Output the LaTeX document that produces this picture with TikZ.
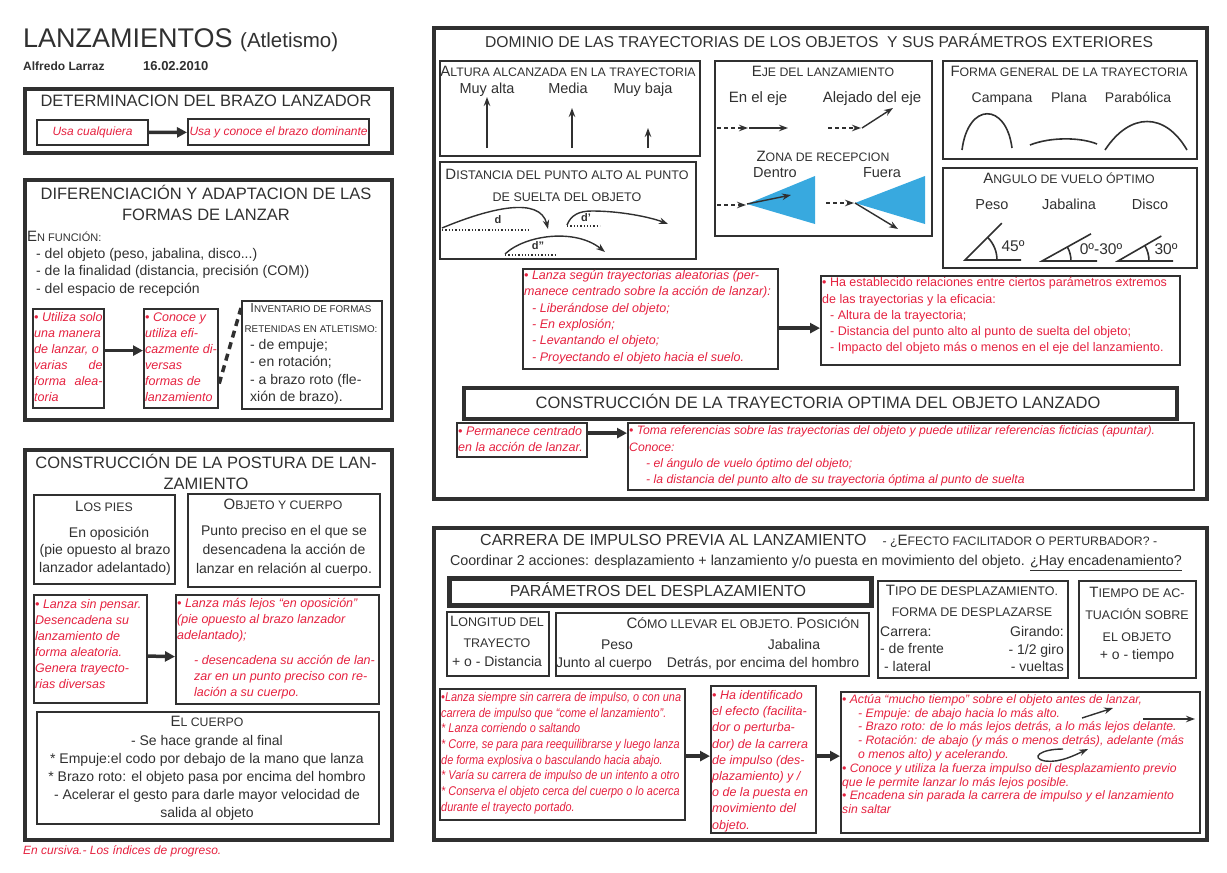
\documentclass[tikz,border=0pt]{standalone}
\usepackage{fontspec}
\setmainfont{Liberation Sans}
\newfontfamily\narrowfont[FakeStretch=0.86]{Liberation Sans}
\usetikzlibrary{arrows.meta, positioning, calc}
\definecolor{ink}{HTML}{303030}
\definecolor{redink}{HTML}{E5213F}
\definecolor{zone}{HTML}{38A9DF}
\newcommand\fs[2]{\fontsize{#1}{#2}\selectfont}
\newcommand\bigc[2][15]{{\fontsize{#1}{#1}\selectfont #2}}
\tikzset{
  frame/.style    = {draw=ink, line width=4pt, anchor=north west, inner sep=0pt},
  box/.style      = {draw=ink, line width=2.2pt, anchor=north west, inner sep=0pt},
  head/.style     = {text=ink, font=\fs{16.5}{20.5}, align=center, inner sep=0pt},
  smallcap/.style = {text=ink, font=\fs{12.3}{21}, align=center, inner sep=0pt},
  body/.style     = {text=ink, font=\fs{14}{17.5}, align=center, inner sep=0pt},
  tag/.style      = {body, text height=10.5pt, text depth=3pt},
  note/.style     = {text=redink, font=\itshape\fs{12.5}{16}, align=left, anchor=west, inner sep=0pt},
  flow/.style     = {-{Triangle[length=10pt, width=10pt]}, draw=ink, line width=3.5pt},
  thin/.style     = {-{Stealth[length=9pt, width=6.5pt]}, draw=ink, line width=1.4pt},
  thindash/.style = {thin, dash pattern=on 4pt off 3pt},
  curve/.style    = {draw=ink, line width=1.6pt},
}
\begin{document}
\begin{tikzpicture}[x=1pt, y=-1pt]
  \useasboundingbox (0,0) rectangle (1227,873);

  % cabecera
  \node[anchor=base west, text=ink, font=\fs{27}{30}, inner sep=0pt] (titulo) at (23,47) {LANZAMIENTOS {\fs{20.5}{24}(Atletismo)}};
  \node[anchor=base west, text=ink, font=\bfseries\fs{12}{14}, inner sep=0pt] (autor) at (23,70) {Alfredo Larraz};
  \node[anchor=base west, text=ink, font=\bfseries\fs{13}{14}, inner sep=0pt] (fecha) at (143,70) {16.02.2010};

  % brazo lanzador
  \node[frame, minimum width=367, minimum height=64] (fbrazo) at (23,87) {};
  \node[head] (tbrazo) at (206,101) {DETERMINACION DEL BRAZO LANZADOR};
  \node[box, minimum width=111, minimum height=25, text=redink, font=\itshape\fs{12}{15}] (cualquiera) at (36,119) {Usa cualquiera};
  \node[box, minimum width=181, minimum height=26, text=redink, font=\itshape\fs{12}{15}] (dominante) at (187,118) {Usa y conoce el brazo dominante};
  \draw[flow] (cualquiera) -- (dominante);

  % formas de lanzar
  \node[frame, minimum width=367, minimum height=240] (fformas) at (23,178) {};
  \node[head] (tformas) at (206,203) {DIFERENCIACIÓN Y ADAPTACION DE LAS\\FORMAS DE LANZAR};
  \node[smallcap, font=\fs{11}{13}, anchor=west] (funcion) at (27,236) {\bigc{E}N FUNCIÓN:};
  \node[body, align=left, anchor=west] (criterios) at (36,272) {- del objeto (peso, jabalina, disco...)\\- de la finalidad (distancia, precisión (COM))\\- del espacio de recepción};
  \node[box, minimum width=71, minimum height=99] (solo) at (32,308) {};
  \node[note] at (34,357) {• Utiliza solo\\una manera\\de lanzar, o\\varias\hfill de\\forma\hfill alea-\\toria};
  \node[box, minimum width=74, minimum height=99] (diversas) at (143,308) {};
  \node[note] at (145,357) {• Conoce y\\utiliza efi-\\cazmente di-\\versas\\formas de\\lanzamiento};
  \node[box, minimum width=140, minimum height=108] (inventario) at (241,300) {};
  \node[smallcap, font=\fs{9.8}{20}] at (311,318) {\bigc[13]{I}NVENTARIO DE FORMAS\\RETENIDAS EN ATLETISMO:};
  \node[body, align=left, anchor=west] at (250,372) {- de empuje;\\- en rotación;\\- a brazo roto (fle-\\xión de brazo).};
  \draw[flow] ([yshift=8pt]solo.east) -- ([yshift=8pt]diversas.west);
  \draw[draw=ink, line width=3.5pt, dash pattern=on 7pt off 5pt] ([yshift=-25pt]diversas.east) -- ([yshift=-8pt]inventario.north west);

  % postura de lanzamiento
  \node[frame, minimum width=367, minimum height=390] (fpostura) at (23,448) {};
  \node[head] (tpostura) at (206,472) {CONSTRUCCIÓN DE LA POSTURA DE LAN-\\ZAMIENTO};
  \node[box, minimum width=141, minimum height=89] (pies) at (33,494) {};
  \node[smallcap] at (104,506) {\bigc{L}OS PIES};
  \node[body] at (105,551) {\hspace*{8pt}En oposición\\(pie opuesto al brazo\\lanzador adelantado)};
  \node[box, minimum width=192, minimum height=93] (cuerpo) at (187,493) {};
  \node[smallcap] at (283,504) {\bigc{O}BJETO Y CUERPO};
  \node[body, font=\fs{14}{19}] at (284,551) {Punto preciso en el que se\\desencadena la acción de\\lanzar en relación al cuerpo.};
  \node[box, minimum width=113, minimum height=108] (pensar) at (33,594) {};
  \node[note] at (35,644) {• Lanza sin pensar.\\Desencadena su\\lanzamiento de\\forma aleatoria.\\Genera trayecto-\\rias diversas};
  \node[box, minimum width=203, minimum height=109] (oposicion) at (175,594) {};
  \node[note] at (177,649) {• Lanza más lejos “en oposición”\\(pie opuesto al brazo lanzador\\adelantado);\\[9pt]\hspace*{17pt}- desencadena su acción de lan-\\\hspace*{17pt}zar en un punto preciso con re-\\\hspace*{17pt}lación a su cuerpo.};
  \draw[flow] ([yshift=-7pt]pensar.east) -- ([yshift=-7pt]oposicion.west);
  \node[box, minimum width=342, minimum height=112] (elcuerpo) at (36,711) {};
  \node[smallcap] at (207,721) {\bigc{E}L CUERPO};
  \node[body, font=\fs{14}{18}] at (207,778) {- Se hace grande al final\\* Empuje:el codo por debajo de la mano que lanza\\* Brazo roto: el objeto pasa por encima del hombro\\- Acelerar el gesto para darle mayor velocidad de\\salida al objeto};
  \node[anchor=west, text=redink, font=\itshape\fs{12}{14}, inner sep=0pt] (leyenda) at (23,851) {En cursiva.- Los índices de progreso.};

  % dominio de las trayectorias
  \node[frame, minimum width=773, minimum height=471] (fdominio) at (432,26) {};
  \node[head, font=\fs{15.7}{19}] (tdominio) at (819,41) {DOMINIO DE LAS TRAYECTORIAS DE LOS OBJETOS\ \ Y SUS PARÁMETROS EXTERIORES};

  \node[box, minimum width=260, minimum height=95] (altura) at (439,60) {};
  \node[smallcap] at (568,71) {\bigc{A}LTURA ALCANZADA EN LA TRAYECTORIA};
  \node[tag, font=\fs{14.5}{17}] at (487,90) {Muy alta};
  \node[tag, font=\fs{14.5}{17}] at (568,90) {Media};
  \node[tag, font=\fs{14.5}{17}] at (643,90) {Muy baja};
  \foreach \x/\h in {487/97, 572/108, 648/128}
    \draw[thin] (\x,148) -- (\x,\h);

  \node[box, minimum width=256, minimum height=97] (distancia) at (439,161) {};
  \node[smallcap, font=\fs{12.5}{22}] at (567,185) {\bigc{D}ISTANCIA DEL PUNTO ALTO AL PUNTO\\DE SUELTA DEL OBJETO};
  \draw[thin] (442,228) .. controls (490,208) and (540,196) .. (548,229);
  \draw[ink, line width=1.3pt, dotted] (442,230) -- (528,230);
  \node[text=ink, font=\bfseries\fs{11}{12}] at (498,220) {d};
  \draw[thin] (567,225) .. controls (571,215) and (579,211) .. (592,211) .. controls (620,211) and (650,217) .. (668,224);
  \draw[ink, line width=1.3pt, dotted] (567,226) -- (600,226);
  \node[text=ink, font=\bfseries\fs{11}{12}] at (586,218) {d'};
  \draw[thin] (505,254) .. controls (525,235) and (575,228) .. (605,252);
  \draw[ink, line width=1.3pt, dotted] (505,255) -- (556,255);
  \node[text=ink, font=\bfseries\fs{11}{12}] at (538,246) {d''};

  \node[box, minimum width=217, minimum height=175] (eje) at (714,60) {};
  \node[smallcap] at (823,71) {\bigc{E}JE DEL LANZAMIENTO};
  \node[tag, font=\fs{15}{17}] at (758,99) {En el eje};
  \node[tag, font=\fs{15}{17}] at (872,99) {Alejado del eje};
  \draw[thindash] (717,128) -- (748,128);
  \draw[thin] (749,128) -- (788,128);
  \draw[thindash] (828,128) -- (861,128);
  \draw[thin] (862,128) -- (893,108);
  \node[smallcap] at (823,156) {\bigc{Z}ONA DE RECEPCION};
  \node[tag, font=\fs{14.5}{17}] at (775,174) {Dentro};
  \node[tag, font=\fs{14.5}{17}] at (882,174) {Fuera};
  \fill[zone] (747,204) -- (815,176) -- (815,224) -- cycle;
  \fill[zone] (855,203) -- (925,176) -- (925,224) -- cycle;
  \draw[thindash] (717,205) -- (746,205);
  \draw[thin] (747,204) -- (791,195);
  \draw[thindash] (826,203) -- (854,203);
  \draw[thin] (855,203) -- (898,229);

  \node[box, minimum width=254, minimum height=98] (forma) at (942,60) {};
  \node[smallcap] at (1069,71) {\bigc{F}ORMA GENERAL DE LA TRAYECTORIA};
  \node[tag] at (1002,99) {Campana};
  \node[tag] at (1069,99) {Plana};
  \node[tag] at (1138,99) {Parabólica};
  \draw[curve] (962,150) .. controls (968,102) and (1006,102) .. (1012,148);
  \draw[curve] (1030,145) .. controls (1050,137) and (1080,137) .. (1097,144);
  \draw[curve] (1105,150) .. controls (1130,112) and (1165,112) .. (1187,150);

  \node[box, minimum width=254, minimum height=100] (angulo) at (942,167) {};
  \node[smallcap] at (1069,178) {\bigc{A}NGULO DE VUELO ÓPTIMO};
  \node[tag, font=\fs{14.5}{17}] at (992,206) {Peso};
  \node[tag, font=\fs{14.5}{17}] at (1069,206) {Jabalina};
  \node[tag, font=\fs{14.5}{17}] at (1150,206) {Disco};
  \draw[curve] (1021,260) -- (965,260) -- ++(-45:52);
  \draw[curve] (997,260) arc[start angle=0, end angle=-45, radius=32];
  \node[text=ink, font=\fs{15.5}{17}] at (1013,246) {45º};
  \draw[curve] (1097,261) -- (1042,261) -- ++(-29:56);
  \draw[curve] (1071,261) arc[start angle=0, end angle=-29, radius=29];
  \node[text=ink, font=\fs{15.5}{17}] at (1101,249) {0º-30º};
  \draw[curve] (1173,261) -- (1118,261) -- ++(-30:50);
  \draw[curve] (1149,261) arc[start angle=0, end angle=-30, radius=31];
  \node[text=ink, font=\fs{15.5}{17}] at (1166,249) {30º};

  \node[box, minimum width=255, minimum height=100] (aleatorias) at (522,268) {};
  \node[note, font=\itshape\fs{12.5}{16.4}] at (524,317) {• Lanza según trayectorias aleatorias (per-\\manece centrado sobre la acción de lanzar):\\\hspace*{8pt}- Liberándose del objeto;\\\hspace*{8pt}- En explosión;\\\hspace*{8pt}- Levantando el objeto;\\\hspace*{8pt}- Proyectando el objeto hacia el suelo.};
  \node[box, minimum width=359, minimum height=89] (relaciones) at (820,275) {};
  \node[note, font=\fs{12.5}{16.2}] at (822,316) {• Ha establecido relaciones entre ciertos parámetros extremos\\de las trayectorias y la eficacia:\\\hspace*{8pt}- Altura de la trayectoria;\\\hspace*{8pt}- Distancia del punto alto al punto de suelta del objeto;\\\hspace*{8pt}- Impacto del objeto más o menos en el eje del lanzamiento.};
  \draw[flow] ([yshift=-9pt]aleatorias.east) -- ([yshift=-9pt]aleatorias.east -| relaciones.west);

  \node[frame, minimum width=713, minimum height=31] (optima) at (462,386) {};
  \node[head] at (818,401) {CONSTRUCCIÓN DE LA TRAYECTORIA OPTIMA DEL OBJETO LANZADO};
  \node[box, minimum width=130, minimum height=34] (centrado) at (456,422) {};
  \node[note] at (458,439) {• Permanece centrado\\en la acción de lanzar.};
  \node[box, minimum width=566, minimum height=67] (referencias) at (627,422) {};
  \node[note, font=\itshape\fs{12.2}{16.3}] at (629,456) {• Toma referencias sobre las trayectorias del objeto y puede utilizar referencias ficticias (apuntar).\\Conoce:\\\hspace*{17pt}- el ángulo de vuelo óptimo del objeto;\\\hspace*{17pt}- la distancia del punto alto de su trayectoria óptima al punto de suelta};
  \draw[flow] ([yshift=7pt]centrado.east) -- ([yshift=7pt]centrado.east -| referencias.west);

  % carrera de impulso
  \node[frame, minimum width=773, minimum height=312] (fcarrera) at (432,526) {};
  \node[text=ink, font=\fs{16}{20}, anchor=west, inner sep=0pt] (tcarrera) at (480,541) {CARRERA DE IMPULSO PREVIA AL LANZAMIENTO\quad{\fs{12.3}{14}- ¿\bigc{E}FECTO FACILITADOR O PERTURBADOR? -}};
  \node[tag, font=\fs{14.3}{17}] (coordinar) at (816,562) {Coordinar 2 acciones: desplazamiento + lanzamiento y/o puesta en movimiento del objeto. \underline{¿Hay encadenamiento?}};
  \node[frame, line width=4.5pt, minimum width=422, minimum height=27] (parametros) at (447,576) {};
  \node[head, font=\fs{16}{20}] at (658,590) {PARÁMETROS DEL DESPLAZAMIENTO};

  \node[box, minimum width=102, minimum height=64] (longitud) at (446,611) {};
  \node[smallcap, font=\fs{12.5}{21}] at (497,632) {\bigc{L}ONGITUD DEL\\TRAYECTO};
  \node[tag] at (497,663) {+ o - Distancia};
  \node[box, minimum width=313, minimum height=63] (llevar) at (555,612) {};
  \node[smallcap, font=\fs{12.5}{16}] at (743,623) {\bigc{C}ÓMO LLEVAR EL OBJETO. \bigc{P}OSICIÓN};
  \node[tag] at (617,646) {Peso};
  \node[tag] at (794,646) {Jabalina};
  \node[tag] at (604,664) {Junto al cuerpo};
  \node[tag] at (763,664) {Detrás, por encima del hombro};
  \node[box, minimum width=190, minimum height=97] (tipo) at (877,580) {};
  \node[smallcap, font=\fs{12.5}{21}] at (972,601) {\bigc{T}IPO DE DESPLAZAMIENTO.\\FORMA DE DESPLAZARSE};
  \node[body, align=left, anchor=west] at (880,649) {Carrera:\\- de frente\\\hspace*{4pt}- lateral};
  \node[body, align=right, anchor=east] at (1064,649) {Girando:\\- 1/2 giro\\- vueltas};
  \node[box, minimum width=117, minimum height=97] (tiempo) at (1078,580) {};
  \node[smallcap, font=\fs{12.5}{22}] at (1137,614) {\bigc{T}IEMPO DE AC-\\TUACIÓN SOBRE\\EL OBJETO};
  \node[tag] at (1137,656) {+ o - tiempo};

  \node[box, minimum width=245, minimum height=131] (impulso) at (439,688) {};
  \node[note, font=\narrowfont\itshape\fs{12.7}{15.7}] at (441,753) {•Lanza siempre sin carrera de impulso, o con una\\carrera de impulso que “come el lanzamiento”.\\* Lanza corriendo o saltando\\* Corre, se para para reequilibrarse y luego lanza\\de forma explosiva o basculando hacia abajo.\\* Varía su carrera de impulso de un intento a otro\\* Conserva el objeto cerca del cuerpo o lo acerca\\durante el trayecto portado.};
  \node[box, minimum width=105, minimum height=147] (efecto) at (710,685) {};
  \node[note, font=\itshape\fs{12.5}{16.2}] at (712,761) {• Ha identificado\\el efecto (facilita-\\dor o perturba-\\dor) de la carrera\\de impulso (des-\\plazamiento) y /\\o de la puesta en\\movimiento del\\objeto.};
  \node[box, minimum width=359, minimum height=141] (actua) at (840,691) {};
  \node[note, font=\itshape\fs{12.2}{13.8}] at (842,754) {• Actúa “mucho tiempo” sobre el objeto antes de lanzar,\\\hspace*{16pt}- Empuje: de abajo hacia lo más alto.\\\hspace*{16pt}- Brazo roto: de lo más lejos detrás, a lo más lejos delante.\\\hspace*{16pt}- Rotación: de abajo (y más o menos detrás), adelante (más\\\hspace*{16pt}o menos alto) y acelerando.\\• Conoce y utiliza la fuerza impulso del desplazamiento previo\\que le permite lanzar lo más lejos posible.\\• Encadena sin parada la carrera de impulso y el lanzamiento\\sin saltar};
  \draw[thin] (1082,718) -- (1113,708);
  \draw[thin] (1143,719) -- (1195,719);
  \draw[thin] (1063,749) .. controls (1040,749) and (1030,758) .. (1045,761) .. controls (1060,763) and (1075,755) .. (1088,749);
  \draw[flow] ([yshift=-1.5pt]impulso.east) -- ([yshift=-1.5pt]impulso.east -| efecto.west);
  \draw[flow] ([yshift=3.5pt]efecto.east) -- ([yshift=3.5pt]efecto.east -| actua.west);
\end{tikzpicture}
\end{document}
